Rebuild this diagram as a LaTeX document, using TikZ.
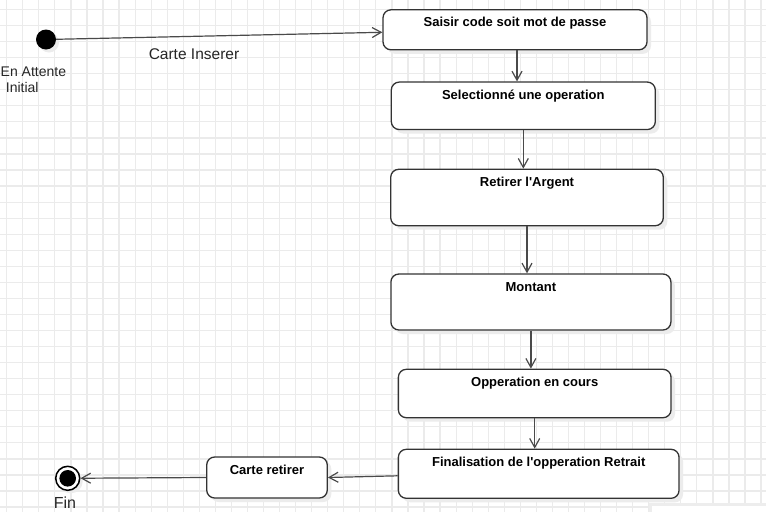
\documentclass[tikz,border=0pt]{standalone}
\usepackage{fontspec}
\setmainfont{Liberation Sans}
\usetikzlibrary{arrows.meta,shadows}
\definecolor{gridc}{HTML}{EBEBEB}
\definecolor{edgec}{HTML}{333333}
\definecolor{linec}{HTML}{4A4A4A}
\definecolor{shadc}{HTML}{ECECEC}
\tikzset{
 state/.style={draw=edgec, line width=1.3pt, fill=white, rounded corners=8pt, inner sep=0pt,
   drop shadow={shadow xshift=4pt, shadow yshift=-4pt, fill=shadc, opacity=1}},
 lbl/.style={anchor=base, yshift=-17.8pt, font=\fontsize{13}{15}\selectfont\bfseries, text=black, inner sep=0pt},
 arr/.style={draw=linec, line width=1.2pt, -{Straight Barb[length=9pt,width=10pt]}},
 gridline/.style={draw=gridc, line width=1.2pt},
 plain/.style={inner sep=0pt, text=black!85},
}
\begin{document}
\begin{tikzpicture}[x=1pt,y=-1pt]
\fill[white] (0,0) rectangle (766,512);
\useasboundingbox (0,0) rectangle (766,512);
\foreach \i in {0,...,47} \draw[gridline] ({6.7+16.05*\i},0) -- ({6.7+16.05*\i},512);
\foreach \j in {0,...,31} \draw[gridline] (0,{9.5+16.05*\j}) -- (766,{9.5+16.05*\j});
\fill[black!7] (649,503) rectangle (766,512);
\fill[white] (652,506) rectangle (766,512);

% states
\node[state, minimum width=264pt, minimum height=40pt,
  label={[lbl]north:Saisir code soit mot de passe}] (b1) at (515,29.8) {};
\node[state, minimum width=264pt, minimum height=47.5pt,
  label={[lbl]north:Selectionné une operation}] (b2) at (523.3,105.8) {};
\node[state, minimum width=272.6pt, minimum height=56.4pt,
  label={[lbl]north:Retirer l\textquotesingle Argent}] (b3) at (527,197.5) {};
\node[state, minimum width=280pt, minimum height=56pt,
  label={[lbl]north:Montant}] (b4) at (530.9,302) {};
\node[state, minimum width=272.7pt, minimum height=48.4pt,
  label={[lbl]north:Opperation en cours}] (b5) at (534.7,393.5) {};
\node[state, minimum width=280.7pt, minimum height=49pt,
  label={[lbl]north:Finalisation de l\textquotesingle opperation Retrait}] (b6) at (538.7,473.8) {};
\node[state, minimum width=120.6pt, minimum height=41pt,
  label={[lbl]north:Carte retirer}] (b7) at (267,477.5) {};

% initial state
\node[circle, fill=black, minimum size=20pt, inner sep=0pt,
  drop shadow={shadow xshift=3pt, shadow yshift=-3pt, fill=shadc, opacity=1}] (s) at (46,39.5) {};
\node[plain, anchor=base west, font=\fontsize{14}{16}\selectfont] (sl1) at (0.5,76) {En Attente};
\node[plain, anchor=base west, font=\fontsize{14}{16}\selectfont] (sl2) at (5.7,92) {Initial};

% final state
\node[circle, draw=black, line width=1.5pt, fill=white, minimum size=24pt, inner sep=0pt,
  drop shadow={shadow xshift=3pt, shadow yshift=-3pt, fill=shadc, opacity=1}] (e) at (67.7,478.3) {};
\node[circle, fill=black, minimum size=16.6pt, inner sep=0pt] (ei) at (e) {};
\node[plain, anchor=base, font=\fontsize{16}{18}\selectfont] (fin) at (65,508.3) {Fin};

% transitions
\draw[arr] (s) -- ([yshift=-2.5pt]b1.west);
\node[plain, anchor=base, font=\fontsize{15.5}{18}\selectfont] (lc) at (194,59) {Carte Inserer};
\draw[arr] ([xshift=2pt]b1.south) -- ([xshift=2pt]b1.south |- b2.north);
\draw[arr] (b2.south) -- (b2.south |- b3.north);
\draw[arr] (b3.south) -- (b3.south |- b4.north);
\draw[arr] (b4.south) -- (b4.south |- b5.north);
\draw[arr] (b5.south) -- (b5.south |- b6.north);
\draw[arr] ([yshift=-2pt]b6.west) -- (b7.east);
\draw[arr] (b7.west) -- (e);
\end{tikzpicture}
\end{document}
